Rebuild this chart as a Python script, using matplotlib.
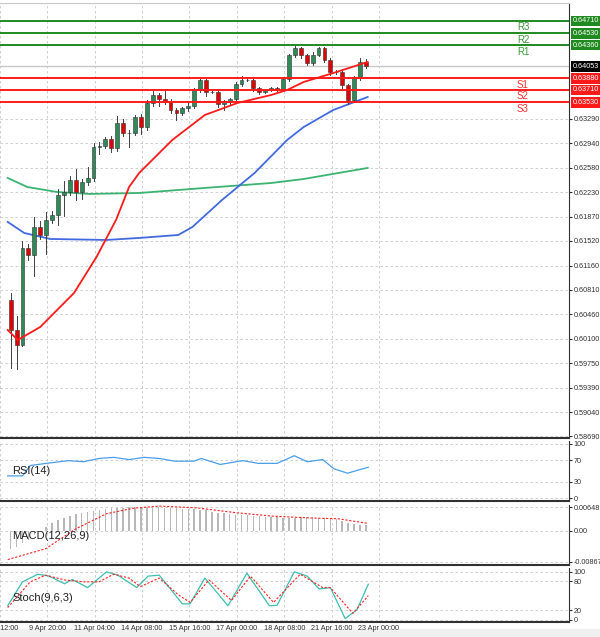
import matplotlib.pyplot as plt
import numpy as np

plt.rcParams["font.family"] = "Liberation Sans"

GREEN_C = "#2e8b57"
RED_C = "#e00000"
GRID = "#c8c8c8"
DARK = "#303030"

# 4H candles, open = previous close
first_open = 0.60665
closes = [0.60230, 0.60012, 0.61419, 0.61317, 0.61723, 0.61607, 0.61825, 0.61897,
          0.62187, 0.62231, 0.62405, 0.62231, 0.62376, 0.62434, 0.62883, 0.62898,
          0.62999, 0.62869, 0.63231, 0.63086, 0.63086, 0.63318, 0.63173, 0.63521,
          0.63637, 0.63579, 0.63535, 0.63419, 0.63376, 0.63448, 0.63477, 0.63710,
          0.63855, 0.63681, 0.63681, 0.63506, 0.63535, 0.63579, 0.63797, 0.63855,
          0.63855, 0.63739, 0.63681, 0.63710, 0.63739, 0.63710, 0.63869, 0.64217,
          0.64319, 0.64217, 0.64101, 0.64217, 0.64319, 0.64145, 0.63971, 0.63971,
          0.63782, 0.63565, 0.63884, 0.64116, 0.64053]
wick_up = [0.0010, 0.0020, 0.0010, 0.0006, 0.0014, 0.0008, 0.0012, 0.0006,
           0.0008, 0.0016, 0.0006, 0.0016, 0.0004, 0.0016, 0.0006, 0.0006,
           0.0003, 0.0004, 0.0010, 0.0006, 0.0004, 0.0003, 0.0004, 0.0004,
           0.0006, 0.0003, 0.0014, 0.0004, 0.0003, 0.0002, 0.0004, 0.0003,
           0.0003, 0.0002, 0.0003, 0.0004, 0.0003, 0.0002, 0.0003, 0.0006,
           0.0003, 0.0004, 0.0002, 0.0002, 0.0002, 0.0002, 0.0002, 0.0002,
           0.0003, 0.0002, 0.0002, 0.0004, 0.0002, 0.0002, 0.0003, 0.0003,
           0.0004, 0.0002, 0.0003, 0.0006, 0.0004]
wick_dn = [0.0055, 0.0035, 0.0002, 0.0008, 0.0030, 0.0006, 0.0028, 0.0004,
           0.0014, 0.0030, 0.0004, 0.0012, 0.0010, 0.0004, 0.0004, 0.0010,
           0.0003, 0.0006, 0.0004, 0.0004, 0.0020, 0.0003, 0.0010, 0.0004,
           0.0004, 0.0010, 0.0003, 0.0004, 0.0010, 0.0003, 0.0004, 0.0003,
           0.0003, 0.0006, 0.0002, 0.0004, 0.0008, 0.0003, 0.0003, 0.0003,
           0.0002, 0.0004, 0.0003, 0.0002, 0.0002, 0.0002, 0.0002, 0.0003,
           0.0003, 0.0004, 0.0003, 0.0003, 0.0002, 0.0003, 0.0004, 0.0003,
           0.0004, 0.0006, 0.0003, 0.0003, 0.0002]

ma_red_x = [-0.5, 1.2, 5, 10.7, 14.5, 17.8, 20, 21.7, 27.3, 32.8, 38.3, 44, 46.7, 49.5, 54.5, 60.3]
ma_red_y = [0.60230, 0.60085, 0.60273, 0.60766, 0.61288, 0.61825, 0.62303, 0.62506,
            0.62985, 0.63347, 0.63521, 0.63637, 0.63710, 0.63826, 0.63956, 0.64116]
ma_blue_x = [-0.5, 2.3, 6.7, 16.2, 21.7, 28.3, 30.7, 35.7, 41.2, 46.7, 49.5, 54.5, 60.3]
ma_blue_y = [0.61796, 0.61636, 0.61549, 0.61535, 0.61564, 0.61607, 0.61723, 0.62115,
             0.62506, 0.62985, 0.63173, 0.63420, 0.63608]
ma_green_x = [-0.5, 2.8, 7.8, 13.3, 21.7, 32.8, 44, 49.5, 60.3]
ma_green_y = [0.62434, 0.62303, 0.62231, 0.62202, 0.62216, 0.62289, 0.62361, 0.62419, 0.62579]

resist = {"R1": 0.6436, "R2": 0.6453, "R3": 0.6471}
support = {"S1": 0.6388, "S2": 0.6371, "S3": 0.6353}

price_ticks = [0.63290, 0.62940, 0.62580, 0.62230, 0.61870, 0.61520, 0.61160, 0.60810,
               0.60460, 0.60100, 0.59750, 0.59390, 0.59040, 0.58690]

rsi_x = [-0.5, 2, 3.3, 6, 9.8, 12.3, 14.9, 17.4, 20, 22.6, 25.1, 27.7, 30.9, 32.2, 35.4,
         39.2, 41.8, 45, 47.9, 50.1, 52.7, 54.6, 56.9, 60.4]
rsi_y = [41, 41, 60, 64, 69, 67, 73, 75, 71, 75, 73, 68, 68, 73, 62, 69, 64, 64, 78, 67,
         71, 54, 46, 57]

macd_hist = [-0.0050, -0.0045, -0.0035, -0.0025, -0.0012, 0.0000, 0.0010, 0.0020,
             0.0030, 0.0035, 0.0040, 0.0045, 0.0048, 0.0052, 0.0055, 0.0058,
             0.0060, 0.0062, 0.0063, 0.0064, 0.0065, 0.0066, 0.0066, 0.0066,
             0.0065, 0.0065, 0.0064, 0.0063, 0.0062, 0.0061, 0.0060, 0.0059,
             0.0058, 0.0056, 0.0053, 0.0050, 0.0048, 0.0046, 0.0044, 0.0043,
             0.0042, 0.0041, 0.0040, 0.0039, 0.0038, 0.0037, 0.0036, 0.0036,
             0.0036, 0.0037, 0.0037, 0.0037, 0.0036, 0.0035, 0.0033, 0.0031,
             0.0028, 0.0022, 0.0019, 0.0017, 0.0015]
sig_x = [-0.5, 5.9, 11, 16.2, 20.7, 25.1, 31.5, 37.9, 44.4, 50.8, 55.3, 60.4]
sig_y = [-0.0080, -0.0050, 0.0005, 0.0047, 0.0062, 0.0068, 0.0063, 0.0050,
         0.0040, 0.0035, 0.0033, 0.0020]

st_x = [-0.5, 2, 4.6, 6.5, 9.1, 10.4, 13, 16.2, 18.1, 21.3, 23.2, 25.1, 29, 30.3, 32.8,
        36.7, 39.9, 43.7, 45, 47.9, 50.1, 52.1, 54, 56.5, 58.5, 60.4]
st_k = [29, 79, 95, 91, 75, 84, 67, 100, 93, 67, 91, 93, 33, 33, 87, 29, 97, 29, 30, 100,
        91, 64, 67, 2, 21, 74]
sd_x = [-0.5, 3.3, 5.9, 9.1, 12.3, 14.9, 17.4, 20, 21.9, 25.1, 28.3, 30.3, 33.5, 37.3,
        40.5, 44.4, 48.9, 52.7, 54, 57.8, 60.4]
st_d = [25, 79, 93, 83, 79, 79, 95, 87, 69, 87, 52, 36, 83, 40, 91, 36, 95, 67, 67, 13, 50]

tick_pos = [-1.8, 6.2, 14.2, 22.2, 30.2, 38.2, 46.2, 54.2, 62.2]
tick_labels = ["8 Apr 12:00", "9 Apr 20:00", "11 Apr 04:00", "14 Apr 08:00", "15 Apr 16:00",
               "17 Apr 00:00", "18 Apr 08:00", "21 Apr 16:00", "23 Apr 00:00"]

W, H = 600, 637
LBL = 5.2
fig = plt.figure(figsize=(W / 100, H / 100), dpi=100)
fig.patch.set_facecolor("white")


def make_ax(top, bottom):
    ax = fig.add_axes([0, (H - bottom) / H, 569 / W, (bottom - top) / H])
    ax.set_xlim(-0.5, 94.3)
    ax.set_xticks(tick_pos)
    ax.grid(True, color=GRID, ls=(0, (3, 3)), lw=0.6)
    ax.yaxis.tick_right()
    ax.tick_params(axis="y", labelsize=LBL, length=2, pad=1.5, colors=DARK)
    ax.tick_params(axis="x", length=0, labelbottom=False)
    for s in ["left", "top"]:
        ax.spines[s].set_visible(False)
    ax.spines["right"].set_color(DARK)
    ax.spines["bottom"].set_color(DARK)
    ax.spines["bottom"].set_linewidth(1.5)
    return ax


def price_box(ax, v, fc):
    y = ax.transData.transform((0, v))[1] / H
    fig.text(573 / W, y, f"{v:.5f}", fontsize=LBL, color="white", va="center",
             bbox=dict(boxstyle="square,pad=0.25", fc=fc, ec="none"))


# main price panel
ax = make_ax(3, 438)
ax.set_ylim(0.58663, 0.64971)
ax.set_yticks(price_ticks)
ax.set_yticklabels([f"{t:.5f}" for t in price_ticks])
ax.spines["top"].set_visible(True)
ax.spines["top"].set_color(GRID)

opens = [first_open] + closes[:-1]
for i, (o, c) in enumerate(zip(opens, closes)):
    hi = max(o, c) + wick_up[i]
    lo = min(o, c) - wick_dn[i]
    col = GREEN_C if c >= o else RED_C
    ax.plot([i, i], [lo, hi], color="#404040", lw=0.7, zorder=3)
    ax.bar(i, max(abs(c - o), 0.00006), bottom=min(o, c), width=0.65, color=col,
           edgecolor="#303030", lw=0.4, zorder=4)

ax.plot(ma_green_x, ma_green_y, color="#3cb371", lw=1.3, zorder=2)
ax.plot(ma_blue_x, ma_blue_y, color="#4169e1", lw=1.3, zorder=2)
ax.plot(ma_red_x, ma_red_y, color="#ff1a1a", lw=1.3, zorder=5)

ax.axhline(closes[-1], color="#c8c8c8", lw=1, zorder=1)
for name, v in resist.items():
    ax.axhline(v, color="#1f8a1f", lw=1.4, zorder=6)
    ax.text(85.5, v - 0.0002, name, color="#3a9a3a", fontsize=7, va="top", zorder=7)
    price_box(ax, v, "#1f8a1f")
for name, v in support.items():
    ax.axhline(v, color="#ff1a1a", lw=1.4, zorder=6)
    ax.text(85.5, v - 0.0002, name, color="#ff3030", fontsize=7, va="top", zorder=7)
    price_box(ax, v, "#ff1a1a")
price_box(ax, closes[-1], "black")

# RSI
ax_r = make_ax(441, 501)
ax_r.set_ylim(-5, 105)
ax_r.set_yticks([0, 30, 70, 100])
ax_r.plot(rsi_x, rsi_y, color="#4a9ee8", lw=0.9)
ax_r.text(0.3, 50, "RSI(14)", fontsize=8, va="center", color="#202020")

# MACD
ax_m = make_ax(505, 565)
ax_m.set_ylim(-0.0095, 0.0071)
ax_m.set_yticks([-0.00867, 0.0, 0.00648])
ax_m.set_yticklabels(["-0.00867", "0.00", "0.006481"])
ax_m.bar(range(len(macd_hist)), macd_hist, width=0.25, color="#b8b8b8")
ax_m.plot(sig_x, sig_y, color="#ff2020", lw=0.8, ls=(0, (2, 1.5)))
ax_m.text(0.3, -0.0015, "MACD(12,26,9)", fontsize=8, va="center", color="#202020")

# Stochastic
ax_s = make_ax(568, 622)
ax_s.set_ylim(-5, 108)
ax_s.set_yticks([0, 20, 80, 100])
ax_s.plot(st_x, st_k, color="#3cbfb0", lw=0.9)
ax_s.plot(sd_x, st_d, color="#ff2020", lw=0.8, ls=(0, (2, 1.5)))
ax_s.text(0.3, 45, "Stoch(9,6,3)", fontsize=8, va="center", color="#202020")
ax_s.tick_params(axis="x", labelbottom=True, labelsize=LBL, pad=2, colors=DARK)
ax_s.set_xticklabels(tick_labels)

fig.patches.append(plt.Rectangle((0, 0), 1, 8 / H, transform=fig.transFigure,
                                 color="#f0f0f0", zorder=-1))
fig.savefig("out.png", dpi=100)
